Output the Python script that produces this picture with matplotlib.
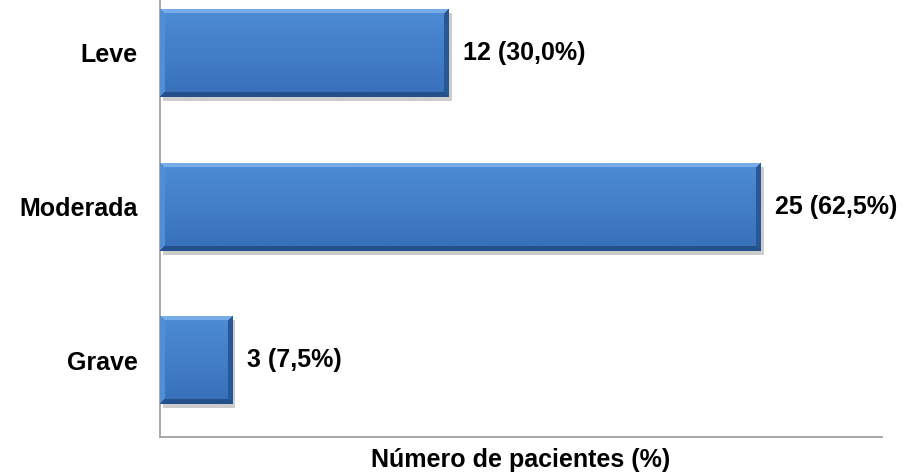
import numpy as np
import matplotlib
matplotlib.use("Agg")
import matplotlib.pyplot as plt
import matplotlib.patheffects as pe

categorias = ["Grave", "Moderada", "Leve"]
pacientes = [3, 25, 12]
percentuais = ["7,5%", "62,5%", "30,0%"]

plt.rcParams['font.family'] = ['Liberation Sans', 'DejaVu Sans']

fig = plt.figure(figsize=(9.05, 4.74), dpi=100)
ax = fig.add_axes([160 / 905, 1 - 437 / 474, 722 / 905, 437 / 474])

y = np.arange(len(categorias))
barras = ax.barh(y, pacientes, height=0.573, color="#3f7fcf", zorder=2)
for b in barras:
    b.set_path_effects([pe.SimplePatchShadow(offset=(2.5, -3), shadow_rgbFace="#808080", alpha=0.4), pe.Normal()])

ax.set_xlim(0, 30.08)
ax.set_ylim(-0.5, 2.345)

for i, (v, p) in enumerate(zip(pacientes, percentuais)):
    ax.annotate(f"{v} ({p})", (v, i), xytext=(11, 0), textcoords="offset points",
                va="center", ha="left", fontsize=18, fontweight="bold")

ax.set_yticks(y)
ax.set_yticklabels(categorias, fontsize=18, fontweight="bold")
ax.tick_params(axis="y", length=0, pad=16)
ax.set_xticks([])
ax.set_xlabel("Número de pacientes (%)", fontsize=18, fontweight="bold", labelpad=8)

for s in ["top", "right"]:
    ax.spines[s].set_visible(False)
for s in ["left", "bottom"]:
    ax.spines[s].set_color("#a0a0a0")
    ax.spines[s].set_linewidth(1.3)

# preenchimento com degradê e chanfro
fig.canvas.draw()
base_top = np.array([78, 140, 214]) / 255
base_bot = np.array([56, 112, 186]) / 255
c_top = np.array([120, 172, 232]) / 255
c_left = np.array([80, 142, 214]) / 255
c_right = np.array([40, 88, 150]) / 255
c_bot = np.array([36, 80, 140]) / 255
bw = 5
for b in barras:
    ext = b.get_window_extent()
    w, h = max(int(round(ext.width)), 2), max(int(round(ext.height)), 2)
    t = np.linspace(0, 1, h)[:, None, None]
    img = np.repeat(base_top * (1 - t) + base_bot * t, w, axis=1)
    ii, jj = np.mgrid[0:h, 0:w]
    d = np.stack([ii, h - 1 - ii, jj, w - 1 - jj])
    k = d.argmin(axis=0)
    m = d.min(axis=0) < bw
    for idx, c in enumerate([c_top, c_bot, c_left, c_right]):
        img[m & (k == idx)] = c
    x0, y0 = b.get_x(), b.get_y()
    im = ax.imshow(img, extent=(x0, x0 + b.get_width(), y0, y0 + b.get_height()),
                   origin="upper", aspect="auto", zorder=3, interpolation="bilinear")
    im.set_clip_path(b)

fig.savefig("out.png", dpi=100)
